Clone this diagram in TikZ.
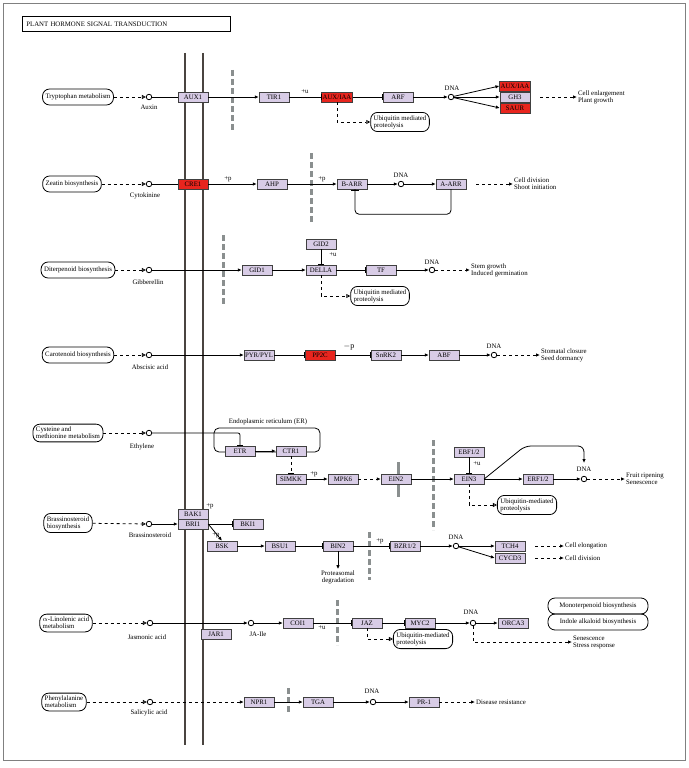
\documentclass[tikz,border=0pt]{standalone}
\usepackage{fontspec}
\setmainfont{Liberation Serif}
\usetikzlibrary{arrows.meta}
\definecolor{gcol}{HTML}{D8CCE6}
\definecolor{rcol}{HTML}{E8251E}
\definecolor{gdc}{HTML}{8A8F8F}
\definecolor{memc}{HTML}{4A4440}
\newcommand{\fs}{\fontsize{6.8}{7}\selectfont}
\tikzset{
 g/.style={draw=black!75,fill=gcol,minimum width=30,minimum height=10,inner sep=1,font=\fs},
 r/.style={g,fill=rcol},
 cpd/.style={circle,draw,thick,minimum size=5.5,inner sep=0},
 mp/.style={draw,thick,rounded corners=7,align=left,font=\fs,inner sep=3,minimum height=16},
 t/.style={font=\fs,inner sep=1,align=left},
 ar/.style={-{Latex[length=4,width=3.5]},thick},
 ihb/.style={-{Bar[width=6]},thick},
 dar/.style={dashed,-{Latex[length=4,width=3.5]},thick},
 oa/.style={dashed,-{Triangle[open,length=4,width=4]},thick},
 gd/.style={draw=gdc,line width=3,dash pattern=on 6 off 3},
 mem/.style={draw=memc,line width=1.8}
}
\begin{document}
\begin{tikzpicture}[x=1pt,y=-1pt]
\useasboundingbox (0,0) rectangle (688,768);
\draw[gray,thick] (3,3) rectangle (685,760);
\node[draw,thick,minimum width=208,minimum height=15,anchor=west,inner sep=2,font=\fs,text width=200] (title) at (22,24) {PLANT HORMONE SIGNAL TRANSDUCTION};
% membranes
\coordinate (m1a) at (185,53); \coordinate (m1b) at (185,745);
\coordinate (m2a) at (203,53); \coordinate (m2b) at (203,745);
\draw[mem] (m1a)--(m1b); \draw[mem] (m2a)--(m2b);
% ---- Row 1 auxin
\node[mp] (trp) at (78,97) {Tryptophan metabolism};
\node[cpd] (aux) at (149,97) {}; \node[t] (auxl) at (149,107) {Auxin};
\node[g] (aux1) at (193,97) {AUX1};
\coordinate (gd1a) at (232,70); \coordinate (gd1b) at (232,130); \draw[gd] (gd1a)--(gd1b);
\node[g] (tir1) at (274,97) {TIR1};
\node[r] (auxiaa) at (337,97) {AUX/IAA};
\node[g] (arf) at (398,97) {ARF};
\node[cpd] (dna1) at (451,97) {}; \node[t] (dna1l) at (452,88) {DNA};
\node[r] (auxiaa2) at (515,86) {AUX/IAA};
\node[g] (gh3) at (515,97) {GH3};
\node[r] (saur) at (515,108) {SAUR};
\node[t,anchor=west] (o1) at (577,97) {Cell enlargement\\Plant growth};
\node[mp] (ub1) at (400,122) {Ubiquitin mediated\\proteolysis};
\node[t] (u1) at (305,92) {+u};
\draw[oa] (trp)--(aux); \draw[thick] (aux)--(aux1); \draw[ar] (aux1)--(tir1);
\draw[ihb] (tir1)--(auxiaa); \draw[ihb] (auxiaa)--(arf); \draw[ar] (arf)--(dna1);
\draw[ar] (dna1)--(auxiaa2.west); \draw[ar] (dna1)--(gh3); \draw[ar] (dna1)--(saur.west);
\draw[dar] (gh3.east)++(10,0) coordinate (o1s) -- (o1.west);
\draw[oa] (auxiaa.south) |- (ub1.west);
% ---- Row 2 cytokinin
\node[mp] (zea) at (72,184) {Zeatin biosynthesis};
\node[cpd] (cyt) at (149,184) {}; \node[t] (cytl) at (145,196) {Cytokinine};
\node[r] (cre1) at (193,184) {CRE1};
\node[g] (ahp) at (272,184) {AHP};
\coordinate (gd2a) at (311,153); \coordinate (gd2b) at (311,224); \draw[gd] (gd2a)--(gd2b);
\node[g] (barr) at (352,184) {B-ARR};
\node[cpd] (dna2) at (401,184) {}; \node[t] (dna2l) at (401,175) {DNA};
\node[g] (aarr) at (451,184) {A-ARR};
\node[t,anchor=west] (o2) at (513,184) {Cell division\\Shoot initiation};
\node[t] (p2a) at (228,179) {+p}; \node[t] (p2b) at (322,179) {+p};
\draw[oa] (zea)--(cyt); \draw[thick] (cyt)--(cre1); \draw[ar] (cre1)--(ahp);
\draw[ar] (ahp)--(barr); \draw[ar] (barr)--(dna2); \draw[ar] (dna2)--(aarr);
\draw[thick,rounded corners=4] (aarr.south) -- ++(0,25) -| ([xshift=3]barr.south);
\draw[thick] ([xshift=-1]barr.south)++(0,1.5) -- ++(8,0);
\draw[dar] ([xshift=10]aarr.east) -- (o2.west);
% ---- Row 3 gibberellin
\node[mp] (dit) at (78,270) {Diterpenoid biosynthesis};
\node[cpd] (gib) at (149,270) {}; \node[t] (gibl) at (148,282) {Gibberellin};
\coordinate (gd3a) at (223,235); \coordinate (gd3b) at (223,305); \draw[gd] (gd3a)--(gd3b);
\node[g] (gid1) at (257,270) {GID1};
\node[g] (della) at (321,270) {DELLA};
\node[g] (gid2) at (321,244) {GID2}; \node[t] (u3) at (333,255) {+u};
\node[g] (tf) at (381,270) {TF};
\node[cpd] (dna3) at (432,270) {}; \node[t] (dna3l) at (432,262) {DNA};
\node[t,anchor=west] (o3) at (470,270) {Stem growth\\Induced germination};
\node[mp] (ub3) at (380,296) {Ubiquitin mediated\\proteolysis};
\draw[oa] (dit)--(gib); \draw[ar] (gib)--(gid1); \draw[ar] (gid1)--(della);
\draw[ihb] (gid2)--(della); \draw[ihb] (della)--(tf); \draw[ar] (tf)--(dna3);
\draw[dar] (dna3)--(o3.west); \draw[oa] (della.south) |- (ub3.west);
% ---- Row 4 ABA
\node[mp] (car) at (78,355) {Carotenoid biosynthesis};
\node[cpd] (aba) at (149,355) {}; \node[t] (abal) at (150,367) {Abscisic acid};
\node[g] (pyr) at (259,355) {PYR/PYL};
\node[r] (pp2c) at (320,355) {PP2C};
\node[g] (snrk) at (386,355) {SnRK2};
\node[g] (abf) at (444,355) {ABF};
\node[cpd] (dna4) at (494,355) {}; \node[t] (dna4l) at (494,346) {DNA};
\node[t,anchor=west] (o4) at (540,355) {Stomatal closure\\Seed dormancy};
\node[font=\fontsize{8}{8}\selectfont,inner sep=0] (p4) at (349,347) {$-$p};
\draw[oa] (car)--(aba); \draw[ar] (aba)--(pyr); \draw[ihb] (pyr)--(pp2c);
\draw[ihb] (pp2c)--(snrk); \draw[ar] (snrk)--(abf); \draw[ar] (abf)--(dna4);
\draw[dar] (dna4)--(o4.west);
% ---- Row 5 ethylene
\node[mp] (cys) at (68,433) {Cysteine and\\methionine metabolism};
\node[cpd] (eth) at (149,433) {}; \node[t] (ethl) at (142,447) {Ethylene};
\node[draw,thick,rounded corners=5,minimum width=106,minimum height=24] (er) at (267,440) {};
\node[t] (erl) at (268,422) {Endoplasmic reticulum (ER)};
\node[g] (etr) at (240,451) {ETR};
\node[g] (ctr1) at (291,451) {CTR1};
\node[g] (simkk) at (291,479) {SIMKK};
\node[g] (mpk6) at (343,479) {MPK6};
\coordinate (gx1) at (398,462); \coordinate (gx2) at (398,497); \draw[gdc,line width=3] (gx1)--(gx2);
\node[g] (ein2) at (396,479) {EIN2};
\coordinate (gd5a) at (433,440); \coordinate (gd5b) at (433,530); \draw[gd] (gd5a)--(gd5b);
\node[g] (ein3) at (469,479) {EIN3};
\node[g] (ebf) at (469,452) {EBF1/2}; \node[t] (u5) at (477,464) {+u};
\node[g] (erf) at (538,479) {ERF1/2};
\node[cpd] (dna5) at (584,479) {}; \node[t] (dna5l) at (584,469) {DNA};
\node[t,anchor=west] (o5) at (625,479) {Fruit ripening\\Senescence};
\node[mp] (ub5) at (527,505) {Ubiquitin-mediated\\proteolysis};
\node[t] (p5) at (314,474) {+p};
\draw[oa] (cys)--(eth); \draw[ihb,rounded corners=2] (eth) -| (etr.north);
\draw[ar] (etr)--(ctr1); \draw[dashed,thick,-{Bar[width=6]}] (ctr1)--(simkk);
\draw[ar] (simkk)--(mpk6); \draw[dar] (mpk6)--(ein2); \draw[ar] (ein2)--(ein3);
\draw[ihb] (ebf)--(ein3); \draw[ar] (ein3)--(erf); \draw[ar] (erf)--(dna5);
\coordinate (dnaTop) at (584,463);
\draw[ar,rounded corners=6] (ein3.east) -- (525,446) -- (584,446) -- (dnaTop);
\draw[dar] (dna5)--(o5.west); \draw[oa] (ein3.south) |- (ub5.west);
% ---- Row 6 brassinosteroid
\node[mp] (brs) at (68,523) {Brassinosteroid\\biosynthesis};
\node[cpd] (br) at (149,524) {}; \node[t] (brl) at (150,535) {Brassinosteroid};
\node[g] (bak1) at (193,514) {BAK1};
\node[g] (bri1) at (193,524) {BRI1};
\node[t] (p6a) at (210,506) {+p};
\node[g] (bki1) at (248,524) {BKI1};
\node[g] (bsk) at (222,546) {BSK}; \node[t] (p6b) at (216,535) {+p};
\node[g] (bsu1) at (280,546) {BSU1};
\node[g] (bin2) at (338,546) {BIN2};
\node[t,align=center] (prot) at (338,577) {Proteasomal\\degradation};
\coordinate (gd6a) at (369,532); \coordinate (gd6b) at (369,580); \draw[gd] (gd6a)--(gd6b);
\node[g] (bzr) at (405,546) {BZR1/2}; \node[t] (p6c) at (380,541) {+p};
\node[cpd] (dna6) at (456,546) {}; \node[t] (dna6l) at (456,537) {DNA};
\node[g] (tch4) at (510,546) {TCH4};
\node[g] (cycd3) at (510,558) {CYCD3};
\node[t,anchor=west] (o6a) at (564,546) {Cell elongation};
\node[t,anchor=west] (o6b) at (564,558) {Cell division};
\draw[oa] (brs)--(br); \draw[ar] (br)--(bri1); \draw[ihb] (bri1)--(bki1);
\draw[ar] (bri1.east) -- (bsk.north); \draw[ar] (bsk)--(bsu1); \draw[ihb] (bsu1)--(bin2);
\draw[ar] (bin2)--(prot); \draw[ihb] (bin2)--(bzr); \draw[ar] (bzr)--(dna6);
\draw[ar] (dna6)--(tch4); \draw[ar] (dna6)--(cycd3.west);
\draw[dar] ([xshift=10]tch4.east)--(o6a.west); \draw[dar] ([xshift=10]cycd3.east)--(o6b.west);
% ---- Row 7 jasmonate
\node[mp] (lin) at (66,623) {$\alpha$-Linolenic acid\\metabolism};
\node[cpd] (ja) at (150,623) {}; \node[t] (jal) at (147,637) {Jasmonic acid};
\node[g] (jar1) at (216,634) {JAR1};
\node[cpd] (jaile) at (251,623) {}; \node[t] (jailel) at (258,634) {JA-Ile};
\node[g] (coi1) at (298,623) {COI1}; \node[t] (u7) at (322,628) {+u};
\coordinate (gd7a) at (337,600); \coordinate (gd7b) at (337,645); \draw[gd] (gd7a)--(gd7b);
\node[g] (jaz) at (367,623) {JAZ};
\node[g] (myc2) at (420,623) {MYC2};
\node[cpd] (dna7) at (473,623) {}; \node[t] (dna7l) at (471,612) {DNA};
\node[g] (orca3) at (513,623) {ORCA3};
\node[mp,minimum width=100] (mono) at (598,606) {Monoterpenoid biosynthesis};
\node[mp,minimum width=100] (indo) at (598,622) {Indole alkaloid biosynthesis};
\node[mp] (ub7) at (423,639) {Ubiquitin-mediated\\proteolysis};
\node[t,anchor=west] (o7) at (572,642) {Senescence\\Stress response};
\draw[oa] (lin)--(ja); \draw[ar] (ja)--(jaile); \draw[ar] (jaile)--(coi1);
\draw[ihb] (coi1)--(jaz); \draw[ihb] (jaz)--(myc2); \draw[ar] (myc2)--(dna7);
\draw[ar] (dna7)--(orca3); \draw[oa] (jaz.south) |- (ub7.west);
\draw[dar] (dna7) |- (o7.west);
% ---- Row 8 salicylic acid
\node[mp] (phe) at (64,702) {Phenylalanine\\metabolism};
\node[cpd] (sa) at (150,702) {}; \node[t] (sal) at (149,713) {Salicylic acid};
\node[g] (npr1) at (259,702) {NPR1};
\coordinate (gd8a) at (288,688); \coordinate (gd8b) at (288,713); \draw[gd] (gd8a)--(gd8b);
\node[g] (tga) at (318,702) {TGA};
\node[cpd] (dna8) at (373,702) {}; \node[t] (dna8l) at (372,691) {DNA};
\node[g] (pr1) at (424,702) {PR-1};
\node[t,anchor=west] (o8) at (475,702) {Disease resistance};
\draw[oa] (phe)--(sa); \draw[dar] (sa)--(npr1); \draw[ar] (npr1)--(tga);
\draw[ar] (tga)--(dna8); \draw[ar] (dna8)--(pr1); \draw[dar] (pr1)--(o8.west);
\end{tikzpicture}
\end{document}
